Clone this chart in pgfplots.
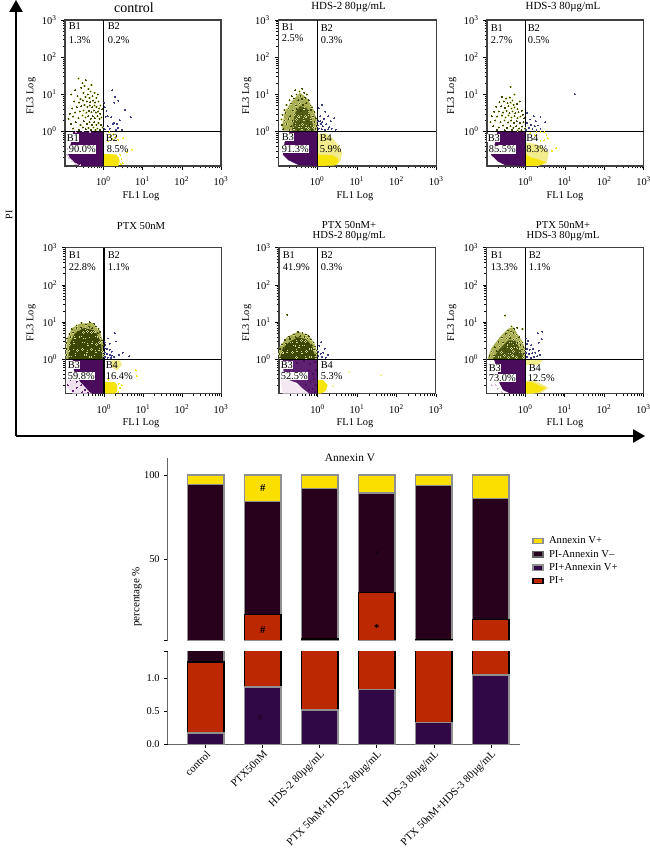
\documentclass[border=0pt]{standalone}
\usepackage{fontspec}
\setmainfont{Liberation Serif}
\usepackage{pgfplots}
\usepackage{pgfplotstable}
\pgfplotsset{compat=1.18}
\usetikzlibrary{arrows.meta}

\definecolor{purp}{HTML}{4A0B5C}
\definecolor{purpl}{HTML}{5E2070}
\definecolor{pinkd}{HTML}{D9B5D6}
\definecolor{yel}{HTML}{F6E40A}
\definecolor{yelp}{HTML}{F2EC8C}
\definecolor{oliv}{HTML}{3D4705}
\definecolor{olivp}{HTML}{A9AE52}
\definecolor{dotp}{HTML}{D2D78C}
\definecolor{navy2}{HTML}{3B3F86}
\definecolor{barY}{HTML}{FBDF00}
\definecolor{barD}{HTML}{27001C}
\definecolor{barP}{HTML}{300845}
\definecolor{barR}{HTML}{BB2802}
\definecolor{barG}{HTML}{8F8F8F}

% cumulative tops of each stack, read off the two axis parts
\pgfplotstableread{
pos  pipos  pi    neg   ann
0    0.17   1.25  94.4  100
1    0.87   17.1  84.1  100
2    0.52   2.3   91.9  100
3    0.83   30.2  89.3  100
4    0.33   2.0   93.7  100
5    1.05   14.1  85.9  100
}\bardata

% cytometry clouds, upper left gate
\pgfplotstableread[row sep=crcr]{x y\\
.23 27\\ .29 20\\ .36 24\\ .19 13\\ .15 10\\ .27 15\\ .33 17\\ .42 14\\ .5 18\\ .22 9\\ .31 11\\ .4 10\\ .47 12\\ .6 11\\ .26 7.5\\ .35 8.5\\ .44 8\\ .53 9\\ .66 8\\ .72 10\\ .18 6.5\\ .24 6\\ .3 6.8\\ .38 6.5\\ .46 6.2\\ .55 6.8\\ .62 6\\ .75 6.5\\ .85 5\\ .16 4.2\\ .21 4.5\\ .27 4.8\\ .33 5.2\\ .39 4.6\\ .45 5\\ .52 4.5\\ .59 5\\ .67 4.6\\ .78 4.2\\ .93 4\\ .14 3\\ .19 3.2\\ .25 3.5\\ .31 3.7\\ .37 3.2\\ .43 3.6\\ .5 3.3\\ .57 3.7\\ .64 3.2\\ .73 3.5\\ .83 3\\ .13 2.2\\ .17 2.5\\ .23 2.3\\ .29 2.7\\ .35 2.4\\ .41 2.6\\ .48 2.2\\ .54 2.6\\ .61 2.3\\ .7 2.6\\ .8 2.2\\ .9 2.4\\ .15 1.6\\ .2 1.8\\ .26 1.5\\ .32 1.9\\ .38 1.6\\ .44 1.8\\ .51 1.5\\ .58 1.8\\ .66 1.5\\ .75 1.7\\ .88 1.5\\ .17 1.2\\ .24 1.1\\ .3 1.3\\ .36 1.15\\ .42 1.25\\ .49 1.1\\ .56 1.3\\ .63 1.1\\ .71 1.2\\ .82 1.1\\ .95 1.3\\
}\cloudA
\pgfplotstableread[row sep=crcr]{x y\\
.28 13\\ .36 12\\ .42 14\\ .23 9\\ .3 10\\ .38 9\\ .47 11\\ .55 10\\ .2 7\\ .26 7.8\\ .33 7\\ .41 7.5\\ .5 8\\ .62 7\\ .17 5.2\\ .22 5.6\\ .29 5\\ .36 5.6\\ .44 5.2\\ .53 5.8\\ .68 5\\ .75 4.4\\ .15 3.8\\ .19 4.2\\ .25 3.7\\ .31 4\\ .39 3.6\\ .47 4.1\\ .58 3.6\\ .7 3.8\\ .85 3.3\\ .135 2.8\\ .16 3.1\\ .21 2.6\\ .27 2.9\\ .34 2.5\\ .42 2.8\\ .51 2.5\\ .62 2.9\\ .78 2.5\\ .92 2.3\\ .125 2.1\\ .15 2\\ .19 2.2\\ .24 1.9\\ .3 2.1\\ .37 1.8\\ .46 2.1\\ .56 1.9\\ .69 2.1\\ .86 1.8\\ .13 1.5\\ .17 1.6\\ .22 1.4\\ .28 1.55\\ .35 1.35\\ .43 1.55\\ .53 1.35\\ .65 1.5\\ .8 1.3\\ .96 1.4\\ .14 1.15\\ .2 1.1\\ .26 1.2\\ .33 1.08\\ .41 1.2\\ .5 1.08\\ .61 1.2\\ .75 1.1\\ .9 1.15\\
}\cloudB
\pgfplotstableread[row sep=crcr]{x y\\
.42 16\\ .53 10\\ .25 8.5\\ .32 7.8\\ .4 8.2\\ .47 6.8\\ .22 6.2\\ .28 6.5\\ .35 5.8\\ .42 6\\ .5 5.2\\ .6 5.5\\ .72 6.5\\ .18 4.6\\ .24 4.8\\ .3 4.3\\ .37 4.8\\ .44 4.2\\ .52 4.4\\ .63 4\\ .8 3.6\\ .16 3.4\\ .21 3.5\\ .27 3.2\\ .33 3.6\\ .39 3.1\\ .46 3.5\\ .54 3.1\\ .67 3.3\\ .85 2.8\\ .14 2.6\\ .19 2.5\\ .25 2.7\\ .31 2.4\\ .37 2.7\\ .44 2.4\\ .52 2.6\\ .62 2.3\\ .74 2.5\\ .92 2.3\\ .13 1.8\\ .17 2\\ .23 1.8\\ .29 2\\ .36 1.75\\ .43 1.95\\ .51 1.7\\ .6 1.9\\ .72 1.7\\ .88 1.8\\ .15 1.4\\ .21 1.3\\ .27 1.45\\ .34 1.25\\ .41 1.4\\ .49 1.25\\ .58 1.4\\ .69 1.2\\ .82 1.35\\ .97 1.2\\ .19 1.1\\ .3 1.08\\ .45 1.1\\ .63 1.06\\ .78 1.08\\
}\cloudC
\pgfplotstableread[row sep=crcr]{x y\\
.2 8\\ .27 9.5\\ .35 8.6\\ .44 10\\ .56 9\\ .15 6.4\\ .2 6.9\\ .26 7\\ .33 6.8\\ .42 7.4\\ .5 6.9\\ .62 7.6\\ .72 6.6\\ .13 4.8\\ .16 5.2\\ .22 5.4\\ .3 5.2\\ .38 5.6\\ .48 5.2\\ .58 5.5\\ .7 5\\ .8 5.4\\ .115 3.6\\ .14 4\\ .18 3.8\\ .25 4\\ .32 3.7\\ .41 4\\ .52 3.7\\ .65 4\\ .82 3.8\\ .9 3.2\\ .11 2.7\\ .13 2.5\\ .17 2.8\\ .23 2.6\\ .3 2.9\\ .39 2.5\\ .5 2.8\\ .64 2.5\\ .78 2.8\\ .95 2.4\\ .108 1.9\\ .125 1.7\\ .16 1.9\\ .21 1.7\\ .28 1.85\\ .37 1.6\\ .48 1.85\\ .62 1.6\\ .76 1.8\\ .93 1.6\\ .11 1.3\\ .14 1.2\\ .19 1.35\\ .26 1.2\\ .34 1.3\\ .45 1.15\\ .6 1.3\\ .8 1.15\\ .97 1.25\\
}\cloudD
\pgfplotstableread[row sep=crcr]{x y\\
.17 15.5\\ .19 4\\ .25 4.6\\ .32 5.4\\ .41 5\\ .5 4.6\\ .6 4.2\\ .15 3.3\\ .2 3.5\\ .28 3.9\\ .36 4.2\\ .46 3.9\\ .56 3.6\\ .68 3.4\\ .78 2.8\\ .125 2.5\\ .16 2.6\\ .22 2.9\\ .3 3\\ .39 3.2\\ .49 3\\ .6 2.7\\ .72 2.4\\ .85 2.2\\ .112 1.9\\ .14 2\\ .19 2.1\\ .26 2.3\\ .34 2.2\\ .44 2.4\\ .54 2.1\\ .66 1.9\\ .8 1.8\\ .93 1.7\\ .108 1.4\\ .13 1.5\\ .17 1.6\\ .23 1.5\\ .3 1.7\\ .4 1.5\\ .52 1.6\\ .68 1.4\\ .85 1.3\\ .97 1.4\\ .11 1.1\\ .15 1.15\\ .21 1.2\\ .29 1.1\\ .38 1.2\\ .5 1.1\\ .66 1.15\\ .9 1.1\\
}\cloudE
\pgfplotstableread[row sep=crcr]{x y\\
.31 15\\ .45 7.5\\ .52 6.6\\ .62 7\\ .36 6\\ .43 5.5\\ .32 4.8\\ .4 4.4\\ .5 5\\ .6 4.6\\ .7 3.9\\ .85 6.5\\ .26 3.8\\ .33 3.6\\ .41 3.7\\ .5 3.4\\ .6 3.6\\ .72 3\\ .85 2.8\\ .21 2.9\\ .27 2.8\\ .34 2.6\\ .42 2.9\\ .52 2.6\\ .63 2.7\\ .76 2.4\\ .9 2.1\\ .17 2.1\\ .22 2.2\\ .29 2\\ .36 2.2\\ .45 1.95\\ .56 2.1\\ .68 1.9\\ .82 1.85\\ .96 1.7\\ .14 1.6\\ .19 1.65\\ .25 1.5\\ .32 1.65\\ .4 1.45\\ .5 1.6\\ .62 1.45\\ .76 1.55\\ .92 1.4\\ .125 1.2\\ .16 1.25\\ .22 1.15\\ .3 1.25\\ .38 1.12\\ .48 1.25\\ .6 1.12\\ .74 1.2\\ .9 1.1\\
}\cloudF

\pgfplotsset{
  cytoaxis/.style={
    xmin=.105, xmax=1000, ymin=.118, ymax=1000,
    scale only axis, height=109.5pt,
    xtick={1,10,100,1000},
    xticklabels={10\textsuperscript{0},10\textsuperscript{1},10\textsuperscript{2},10\textsuperscript{3}},
    ytick={1,10,100,1000},
    yticklabels={10\textsuperscript{0},10\textsuperscript{1},10\textsuperscript{2},10\textsuperscript{3}},
    minor xtick={.2,.3,.4,.5,.6,.7,.8,.9,2,3,4,5,6,7,8,9,20,30,40,50,60,70,80,90,200,300,400,500,600,700,800,900},
    minor ytick={.2,.3,.4,.5,.6,.7,.8,.9,2,3,4,5,6,7,8,9,20,30,40,50,60,70,80,90,200,300,400,500,600,700,800,900},
    tick align=outside, tick pos=left,
    major tick length=2.8pt, minor tick length=1.8pt,
    tick style={black,line width=.4pt},
    ticklabel style={font=\fontsize{7.8}{8}\selectfont},
    xticklabel style={yshift=-2pt},
    axis line style={black!75,line width=.8pt},
  },
  fillpoly/.style={draw=none,fill=#1,forget plot},
  palecl/.style={only marks,mark=*,mark size=.55pt,color=dotp,mark options={fill=dotp,draw=dotp,line width=0pt},forget plot},
  darkcl/.style={only marks,mark=*,mark size=.2pt,color=oliv,mark options={fill=oliv,draw=oliv,line width=0pt},forget plot},
  specks/.style={only marks,mark=*,mark size=.35pt,color=#1,mark options={fill=#1,draw=#1,line width=0pt},forget plot},
  gateline/.style={black,line width=.95pt,forget plot},
  barstyle/.style={ybar,bar shift=0pt,bar width=27.2pt,line width=1.1pt,forget plot},
  barpart/.style={
    scale only axis, width=264.2pt,
    xmin=-.667, xmax=5.51,
    axis y line*=left, axis line style={-,color=black!60,line width=.9pt},
    /pgf/number format/assume math mode=true,
    ticklabel style={font=\fontsize{7.8}{8}\selectfont},
    tick style={black,line width=.5pt},
    major tick length=2.5pt,
    tick align=outside,
  },
}
\newcommand\gates{%
  \addplot[gateline] coordinates {(1,.118)(1,1000)};
  \addplot[gateline] coordinates {(.105,1)(1000,1)};
}
\newcommand\bars{%
  \addplot[barstyle,draw=barG,fill=barY] table[x=pos,y=ann] {\bardata};
  \addplot[barstyle,draw=barG,fill=barD] table[x=pos,y=neg] {\bardata};
  \addplot[barstyle,draw=black,fill=barR] table[x=pos,y=pi] {\bardata};
  \addplot[barstyle,draw=barG,fill=barP] table[x=pos,y=pipos] {\bardata};
}
\newcommand\tlab[4][]{\node[anchor=west,inner sep=.4pt,font=\fontsize{7.8}{8}\selectfont,#1] at (#2*.75pt,-#3*.75pt) {#4};}
\newcommand\flabs[3]{%
  \node[font=\fontsize{7.8}{8}\selectfont] at (#1*.75pt,-#3*.75pt) {FL1 Log};
  \node[font=\fontsize{7.8}{8}\selectfont,rotate=90] at (#2*.75pt,-#3*.75pt+75pt) {FL3 Log};
}

\begin{document}
\begin{tikzpicture}
\path[use as bounding box] (0pt,0pt) rectangle (486.75pt,-636pt);

% ---- control
\begin{axis}[xmode=log,ymode=log,cytoaxis,at={(65*.75pt,-166*.75pt)},anchor=south west,width=117pt]
  \addplot[fillpoly=purp] coordinates {(.17,.99)(1,.99)(1,.118)(.3,.118)(.2,.135)(.14,.195)(.125,.25)(.15,.51)} --cycle;
  \addplot[specks=pinkd] coordinates {(.2,.96)(.3,1)(.45,.98)(.14,.6)(.125,.33)(.12,.24)(.13,.19)(.16,.16)(.2,.135)(.26,.125)};
  \addplot[fillpoly=yel] coordinates {(1,.118)(1,.25)(2.1,.24)(2.5,.2)(2.6,.15)(2.4,.118)} --cycle;
  \addplot[specks=yel] coordinates {(1.4,.95)(1.5,.75)(1.8,.85)(2,.7)(2.4,.6)(3.2,.65)(5.5,.32)(3.9,.28)(1.7,.62)(1.3,.55)(2.7,.24)(2.9,.18)(3.1,.14)(2.8,.13)};
  \addplot[palecl] table[x=x,y=y] {\cloudA};
  \addplot[darkcl] table[x=x,y=y] {\cloudA};
  \addplot[specks=navy2] coordinates {(1.05,6)(1.1,4.5)(1.3,2.6)(1.15,2.5)(1.7,13)(1.9,6)(2,8.5)(2.4,6.8)(3.5,3.8)(5,2.4)(1.6,2.4)(1.9,1.7)(2.6,2)(2.2,1.6)(1.3,1.4)(1.1,1.15)(1.45,1.2)(2.1,1.1)(3,1.1)(2.4,1.25)(1.75,1.6)(1.2,3.5)};
  \gates
\end{axis}
% ---- HDS-2
\begin{axis}[xmode=log,ymode=log,cytoaxis,at={(278.3*.75pt,-166*.75pt)},anchor=south west,width=118.5pt]
  \addplot[fillpoly=purp] coordinates {(.2,.97)(1,.97)(1,.118)(.34,.125)(.186,.17)(.138,.235)(.15,.5)} --cycle;
  \addplot[fillpoly=yelp] coordinates {(1,.118)(1,.85)(1.6,.9)(2.3,.7)(3,.5)(3.6,.4)(4.2,.27)(3.9,.16)(3,.125)} --cycle;
  \addplot[fillpoly=yel] coordinates {(1,.118)(1,.24)(2.4,.23)(3.3,.19)(3.5,.15)(2.8,.122)} --cycle;
  \addplot[fillpoly=olivp] coordinates {(.132,1.05)(.132,1.5)(.155,3.5)(.23,6.5)(.37,11)(.55,8)(.81,3.9)(.97,2.1)(.97,1.05)} --cycle;
  \addplot[fillpoly=oliv!80!olivp] coordinates {(.23,1.05)(.275,3.1)(.37,4.8)(.55,4.3)(.72,2.1)(.85,1.05)} --cycle;
  \addplot[palecl] table[x=x,y=y] {\cloudB};
  \addplot[darkcl] table[x=x,y=y] {\cloudB};
  \addplot[specks=navy2] coordinates {(1.1,4.2)(1.3,5.2)(1.6,3.4)(1.2,2.6)(1.5,2.2)(1.9,2.6)(2.2,1.9)(2.7,2.3)(1.05,1.9)(1.25,1.6)(1.4,1.4)(1.7,1.55)(2,1.3)(1.1,1.2)(1.3,1.15)(1.6,1.1)(1.9,1.15)(2.3,1.2)(2.9,1.1)(1.05,1.45)(1.2,1.9)(1.35,1.8)};
  \gates
\end{axis}
% ---- HDS-3
\begin{axis}[xmode=log,ymode=log,cytoaxis,at={(487*.75pt,-166*.75pt)},anchor=south west,width=117.5pt]
  \addplot[fillpoly=purp] coordinates {(.19,.97)(1,.97)(1,.118)(.3,.125)(.2,.155)(.133,.235)(.17,.5)} --cycle;
  \addplot[fillpoly=yelp] coordinates {(1,.118)(1,.5)(1.5,.48)(2.4,.42)(3.9,.27)(3.5,.14)(2,.118)} --cycle;
  \addplot[fillpoly=yel] coordinates {(1,.118)(1,.24)(1.4,.2)(2.4,.17)(3.3,.15)(2.5,.125)(1.4,.118)} --cycle;
  \addplot[specks=yel] coordinates {(1.9,.95)(2.4,.98)(3,.95)(3.4,.8)(3.7,.65)(3,.58)(2.4,.55)(1.9,.62)(1.7,.8)(1.3,.9)(4.8,.3)(6,.35)};
  \addplot[palecl] table[x=x,y=y] {\cloudC};
  \addplot[darkcl] table[x=x,y=y] {\cloudC};
  \addplot[specks=navy2] coordinates {(18,10)(1.1,3.2)(1.6,2.6)(2.4,2.5)(1.3,2.1)(1.8,1.9)(1.1,1.7)(1.4,1.5)(1.7,1.4)(2.1,1.45)(1.2,1.25)(1.5,1.15)(1.9,1.1)(2.4,1.2)(1.05,1.1)(3.2,1.8)};
  \gates
\end{axis}
% ---- PTX
\begin{axis}[xmode=log,ymode=log,cytoaxis,at={(65.7*.75pt,-393.7*.75pt)},anchor=south west,width=116.5pt]
  \addplot[fillpoly=pinkd!40!white] coordinates {(.11,.3)(.3,.25)(.5,.118)(.16,.118)(.115,.17)} --cycle;
  \addplot[fillpoly=purp] coordinates {(.16,1)(1,1)(1,.118)(.49,.118)(.42,.135)(.3,.2)(.245,.25)(.17,.5)} --cycle;
  \addplot[specks=purpl] coordinates {(.14,.28)(.2,.25)(.26,.2)(.33,.15)(.4,.125)(.2,.17)(.28,.13)(.12,.2)(.16,.14)};
  \addplot[fillpoly=yelp] coordinates {(1.5,.93)(2.6,.93)(2.9,.7)(2.2,.5)(1.6,.6)} --cycle;
  \addplot[fillpoly=yel] coordinates {(1,.118)(1,.25)(1.9,.24)(2.2,.2)(2.2,.14)(1.9,.118)} --cycle;
  \addplot[specks=yel] coordinates {(2.4,.22)(2.6,.17)(2.9,.2)(2.3,.13)(6.6,.5)(7,.35)(1.3,.28)};
  \addplot[fillpoly=olivp] coordinates {(.108,1)(.112,3.2)(.15,6.8)(.245,9.1)(.49,9.5)(.79,6)(.95,2.6)(1,1)} --cycle;
  \addplot[fillpoly=oliv] coordinates {(.123,1)(.132,2.6)(.18,4.9)(.295,6.8)(.59,6)(.83,2.95)(.93,1)} --cycle;
  \addplot[palecl] table[x=x,y=y] {\cloudD};
  \addplot[darkcl] table[x=x,y=y] {\cloudD};
  \addplot[specks=navy2] coordinates {(1.05,2.9)(1.1,2.4)(1.25,3.6)(1.4,2.6)(1.05,2)(1.2,1.9)(1.4,1.8)(1.6,1.6)(1.05,1.5)(1.2,1.4)(1.4,1.3)(1.6,1.25)(1.8,1.15)(1.05,1.15)(1.25,1.1)(1.5,1.08)(3,1.5)(4.5,1.2)(1.9,5)(2,3)(2.4,1.3)};
  \gates
\end{axis}
% ---- PTX + HDS-2
\begin{axis}[xmode=log,ymode=log,cytoaxis,at={(279*.75pt,-393.7*.75pt)},anchor=south west,width=117.7pt]
  \addplot[fillpoly=pinkd!30!white] coordinates {(.11,.37)(.2,.27)(.4,.17)(.62,.118)(.13,.118)} --cycle;
  \addplot[fillpoly=purpl] coordinates {(.13,1)(1,1)(1,.118)(.62,.118)(.4,.17)(.3,.23)(.2,.27)(.14,.35)} --cycle;
  \addplot[specks=purp] coordinates {(.2,.9)(.3,.8)(.45,.9)(.65,.75)(.85,.85)(.9,.5)(.75,.4)(.6,.5)(.8,.3)(.65,.25)(.9,.2)(.5,.2)(.75,.16)(.6,.15)(.88,.13)};
  \addplot[fillpoly=yel] coordinates {(1,.118)(1,.27)(1.35,.28)(1.8,.2)(1.6,.14)(1.2,.118)} --cycle;
  \addplot[specks=yelp] coordinates {(6.4,.46)(40,.37)(2.4,.186)};
  \addplot[fillpoly=olivp] coordinates {(.105,1)(.107,2.1)(.17,4)(.32,5.5)(.59,4.5)(.87,2.4)(1,1)} --cycle;
  \addplot[fillpoly=oliv] coordinates {(.11,1)(.13,1.95)(.195,2.95)(.32,3.9)(.52,3.4)(.74,2.15)(.87,1)} --cycle;
  \addplot[palecl] table[x=x,y=y] {\cloudE};
  \addplot[darkcl] table[x=x,y=y] {\cloudE};
  \addplot[specks=navy2] coordinates {(1.1,2.3)(1.25,2.9)(1.5,1.9)(1.05,1.6)(1.2,1.4)(1.4,1.5)(1.05,1.2)(1.3,1.15)(1.6,1.1)(1.8,1.3)};
  \gates
\end{axis}
% ---- PTX + HDS-3
\begin{axis}[xmode=log,ymode=log,cytoaxis,at={(486.7*.75pt,-393.7*.75pt)},anchor=south west,width=117.5pt]
  \addplot[fillpoly=purp] coordinates {(.16,1)(1,1)(1,.118)(.42,.118)(.27,.15)(.22,.23)(.2,.5)} --cycle;
  \addplot[specks=pinkd] coordinates {(.15,.28)(.18,.2)(.2,.16)(.25,.13)(.14,.2)(.19,.32)};
  \addplot[fillpoly=yelp] coordinates {(1,.7)(1,.95)(2.8,.95)(2.2,.7)} --cycle;
  \addplot[fillpoly=yelp] coordinates {(1,.118)(1,.26)(1.8,.26)(3,.2)(3.9,.17)(2.6,.125)(1.6,.118)} --cycle;
  \addplot[fillpoly=yel] coordinates {(1,.118)(1,.24)(1.5,.24)(2.4,.19)(3.4,.17)(2.2,.13)(1.4,.118)} --cycle;
  \addplot[fillpoly=olivp] coordinates {(.11,1)(.135,1.9)(.224,3.9)(.37,6.6)(.5,7.2)(.81,3.2)(1,1.9)(1,1)} --cycle;
  \addplot[fillpoly=oliv!85!olivp] coordinates {(.148,1)(.224,1.9)(.37,3.2)(.55,3.2)(.81,1.55)(.91,1)} --cycle;
  \addplot[palecl] table[x=x,y=y] {\cloudF};
  \addplot[darkcl] table[x=x,y=y] {\cloudF};
  \addplot[specks=navy2] coordinates {(1.05,3.6)(1.2,3.1)(1.1,2.6)(1.4,2.4)(2.1,5)(2.7,5.5)(2.2,2.8)(2.6,3.4)(1.1,1.9)(1.3,1.8)(1.6,1.9)(1.05,1.5)(1.25,1.4)(1.5,1.45)(1.8,1.5)(2.2,1.7)(1.1,1.15)(1.4,1.1)(1.7,1.15)(2,1.2)(2.4,1.3)};
  \gates
\end{axis}

% ---- gate labels and panel titles
\foreach \px/\py/\t in {68/26/B1,68/40/1.3\%,107/26/B2,107/40/0.2\%,
  281/27/B1,281/38.5/2.5\%,320/28/B2,320/40/0.3\%,
  490/28/B1,490/40/2.7\%,527/28/B2,527/40/0.5\%,
  68/255/B1,68/267/22.8\%,107/255/B2,107/267/1.1\%,
  282/255/B1,282/267/41.9\%,320/255/B2,320/267/0.3\%,
  490/255/B1,490/267/13.3\%,528/255/B2,528/267/1.1\%}
  {\tlab{\px}{\py}{\t}}
\foreach \px/\py/\t in {66/138/B1,68/149.5/90.0\%,
  281/137/B3,281/149/91.3\%,
  487/138/B3,488/149.5/85.5\%,
  67/365/B3,67/376/59.8\%,
  280/365/B3,280/376/52.5\%,
  488/368/B3,488/378/73.0\%}
  {\tlab[fill=white]{\px}{\py}{\t}}
\foreach \px/\py/\t in {105/138/B2,106/149.5/8.5\%,
  319/138/B4,319/149/5.9\%,
  525.5/138/B4,525.5/149.5/8.3\%,
  105/365/B4,105/376/16.4\%,
  320/365/B4,320/376/5.3\%,
  528/368/B4,527/378/12.5\%}
  {\tlab{\px}{\py}{\t}}

\node[font=\fontsize{10.5}{12}\selectfont] at (134*.75pt,-8*.75pt) {control};
\node[font=\fontsize{8.2}{9}\selectfont] at (348.6*.75pt,-7*.75pt) {HDS-2 80µg/mL};
\node[font=\fontsize{8.2}{9}\selectfont] at (563*.75pt,-7*.75pt) {HDS-3 80µg/mL};
\node[font=\fontsize{8}{9}\selectfont] at (141*.75pt,-226*.75pt) {PTX 50nM};
\node[font=\fontsize{8}{7.5}\selectfont,align=center] at (349*.75pt,-231*.75pt) {PTX 50nM+\\HDS-2 80µg/mL};
\node[font=\fontsize{8}{7.5}\selectfont,align=center] at (563*.75pt,-231*.75pt) {PTX 50nM+\\HDS-3 80µg/mL};

\flabs{141}{31}{196}
\flabs{355}{246.7}{196}
\flabs{565}{451.7}{196}
\flabs{141}{31}{423}
\flabs{355}{246.7}{423}
\flabs{565}{451.7}{423}

% ---- big arrows and PI label
\draw[black,line width=1.1pt,-{Triangle[length=9pt,width=10pt]}] (16*.75pt,-436*.75pt) -- (16*.75pt,0pt);
\draw[black,line width=1.1pt,-{Triangle[length=9pt,width=10pt]}] (16*.75pt,-436*.75pt) -- (645*.75pt,-436*.75pt);
\node[font=\fontsize{7.5}{8}\selectfont,rotate=90] at (9*.75pt,-215*.75pt) {PI};

% ---- stacked percentage chart, upper part
\begin{axis}[barpart,at={(167.7*.75pt,-640.7*.75pt)},anchor=south west,height=137.25pt,
    ymin=1.4,ymax=110.3,axis x line=none,
    ytick={1.4,50,100},yticklabels={,50,100},
    legend style={at={(1.023,.4355)},anchor=west,draw=none,fill=none,
      font=\fontsize{8}{8}\selectfont,row sep=1pt,column sep=2pt,
      nodes={inner ysep=.5pt,text height=6pt,text depth=2pt}},
    legend cell align=left,
    legend image code/.code={\draw[#1,line width=1pt] (0pt,-2pt) rectangle (7.5pt,2pt);},
  ]
  \bars
  \addlegendimage{draw=barG,fill=barY}
  \addlegendentry{Annexin V+}
  \addlegendimage{draw=barG!70!black,fill=barD}
  \addlegendentry{PI-Annexin V–}
  \addlegendimage{draw=barG,fill=barP}
  \addlegendentry{PI+Annexin V+}
  \addlegendimage{draw=black,fill=barR}
  \addlegendentry{PI+}
  \node[font=\fontsize{8}{9}\selectfont\bfseries] at (axis cs:1,92) {\#};
  \node[font=\fontsize{8}{9}\selectfont\bfseries] at (axis cs:1,8) {\#};
  \node[font=\fontsize{8}{9}\selectfont\bfseries] at (axis cs:3,9) {*};
  \node[font=\fontsize{6}{7}\selectfont] at (axis cs:3,53) {*};
\end{axis}
% ---- lower part
\begin{axis}[barpart,at={(167.7*.75pt,-744.3*.75pt)},anchor=south west,height=69.45pt,
    ymin=0,ymax=1.403,axis x line*=bottom,x axis line style={-},
    ytick={0,.5,1,1.403},yticklabels={0.0,0.5,1.0,},
    xtick={0,...,5},
    xticklabels={control,PTX50nM,HDS-2 80µg/mL,PTX 50nM+HDS-2 80µg/mL,HDS-3 80µg/mL,PTX 50nM+HDS-3 80µg/mL},
    xticklabel style={rotate=45,anchor=north east,inner sep=1pt,font=\fontsize{8.1}{9}\selectfont},
  ]
  \bars
  \node[font=\fontsize{8}{9}\selectfont,text=barD] at (axis cs:.95,.4) {\#};
\end{axis}

\node[font=\fontsize{8.5}{10}\selectfont] at (350*.75pt,-457.7*.75pt) {Annexin V};
\node[font=\fontsize{8.3}{10}\selectfont,rotate=90] at (137*.75pt,-597*.75pt) {percentage \%};
\end{tikzpicture}
\end{document}
